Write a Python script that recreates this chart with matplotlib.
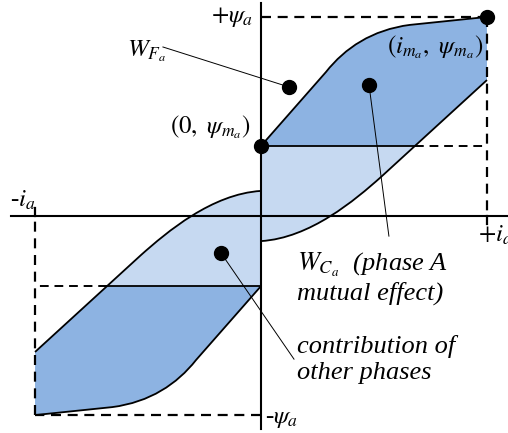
import numpy as np
import matplotlib
matplotlib.use("Agg")
import matplotlib.pyplot as plt
from matplotlib.path import Path
from matplotlib.patches import PathPatch

plt.rcParams["mathtext.fontset"] = "stix"
plt.rcParams["font.family"] = ["Liberation Serif", "DejaVu Serif"]

# flux-linkage loop of phase A, normalised to i_m = 1, psi_m = 1
PSI0 = 0.352                      # flux at zero current (0, psi_m)
I_KNEE = 0.681                    # where the lower branch crosses psi = PSI0

# upper branch: line, cubic bend, line to (i_m, psi_m)
UPPER_X = [0.0, 0.288, 0.372, 0.491, 0.659, 1.0]
UPPER_Y = [PSI0, 0.724, 0.844, 0.935, 0.960, 1.0]
UPPER_CODES = [Path.MOVETO, Path.LINETO, Path.CURVE4, Path.CURVE4, Path.CURVE4, Path.LINETO]

# lower branch: from the right edge down to the psi axis
LOWER_X = [1.0, 0.531, 0.416, 0.217, 0.0]
LOWER_Y = [0.683, 0.196, 0.080, -0.111, -0.126]
LOWER_CODES = [Path.MOVETO, Path.LINETO, Path.CURVE4, Path.CURVE4, Path.CURVE4]

# marker dots
DOT_X = [1.0, 0.0, 0.124, 0.478, -0.177]
DOT_Y = [1.0, PSI0, 0.648, 0.658, -0.186]

DARK = "#8db3e2"
LIGHT = "#c6d9f1"


def branch_path(xs, ys, codes, sign=1):
    verts = np.column_stack([xs, ys]) * sign
    return Path(verts, codes)


def region_paths(sign):
    ux, uy = UPPER_X, UPPER_Y
    lx, ly = LOWER_X, LOWER_Y
    # dark: upper branch, right edge, lower branch to the knee, back along psi0
    dark_v = list(zip(ux, uy)) + [(lx[0], ly[0]), (I_KNEE, PSI0), (0.0, PSI0)]
    dark_c = list(UPPER_CODES) + [Path.LINETO, Path.LINETO, Path.CLOSEPOLY]
    # light: below psi0, between the axis and the lower branch
    light_v = [(0.0, PSI0), (I_KNEE, PSI0)] + list(zip(lx[1:], ly[1:])) + [(0.0, PSI0)]
    light_c = [Path.MOVETO, Path.LINETO, Path.LINETO] + list(LOWER_CODES[2:]) + [Path.CLOSEPOLY]
    dark = Path(np.array(dark_v) * sign, dark_c)
    light = Path(np.array(light_v) * sign, light_c)
    return dark, light


fig = plt.figure(figsize=(5.08, 4.33), dpi=100)
ax = fig.add_axes([0, 0, 1, 1])
ax.set_xlim(-1.155, 1.093)
ax.set_ylim(-1.090, 1.085)
ax.axis("off")

dash = (0, (4.5, 3))
for s in (1, -1):
    dark, light = region_paths(s)
    ax.add_patch(PathPatch(dark, facecolor=DARK, edgecolor="none", zorder=1))
    ax.add_patch(PathPatch(light, facecolor=LIGHT, edgecolor="none", zorder=1))
    ax.add_patch(PathPatch(branch_path(UPPER_X, UPPER_Y, UPPER_CODES, s),
                           facecolor="none", edgecolor="black", lw=1.3, zorder=3))
    ax.add_patch(PathPatch(branch_path(LOWER_X, LOWER_Y, LOWER_CODES, s),
                           facecolor="none", edgecolor="black", lw=1.3, zorder=3))
    # psi0 level: solid inside the loop, dashed beyond it
    ax.plot([0, s * I_KNEE], [s * PSI0, s * PSI0], color="black", lw=1.3, zorder=3)
    ax.plot([s * I_KNEE, s * 1.0], [s * PSI0, s * PSI0], color="black", lw=1.4,
            linestyle=dash, zorder=3)
    # corner guides at (+-i_m, +-psi_m)
    ax.plot([0, s * 1.0], [s * 1.0, s * 1.0], color="black", lw=1.6, linestyle=dash, zorder=3)
    ax.plot([s * 1.0, s * 1.0], [s * 1.0, 0], color="black", lw=1.6, linestyle=dash, zorder=3)
    ax.plot([s * 1.0, s * 1.0], [0, -s * 0.04], color="black", lw=1.6, zorder=3)

# axes
ax.plot([-1.106, 1.093], [0, 0], color="black", lw=1.5, zorder=4)
ax.plot([0, 0], [-1.07, 1.07], color="black", lw=1.5, zorder=4)

# leader lines
ax.plot([-0.434, DOT_X[2]], [0.849, DOT_Y[2]], color="black", lw=0.7, zorder=4)
ax.plot([DOT_X[3], 0.566], [DOT_Y[3], -0.101], color="black", lw=0.7, zorder=4)
ax.plot([DOT_X[4], 0.146], [DOT_Y[4], -0.719], color="black", lw=0.7, zorder=4)

ax.plot(DOT_X, DOT_Y, "o", color="black", markersize=10, zorder=5)

fs = 18
fs_note = 19
ax.text(-0.035, 1.0, r"$+\psi_a$", fontsize=fs, ha="right", va="center")
ax.text(-0.42, 0.83, r"$W_{F_a}$", fontsize=fs, ha="right", va="center")
ax.text(-0.045, 0.447, r"$(0,\ \psi_{m_a})$", fontsize=fs, ha="right", va="center")
ax.text(-1.111, 0.08, r"-$i_a$", fontsize=fs, ha="left", va="center")
ax.text(0.985, 0.849, r"$(i_{m_a},\ \psi_{m_a})$", fontsize=fs, ha="right", va="center")
ax.text(0.96, -0.095, r"$+i_a$", fontsize=fs, ha="left", va="center")
ax.text(0.159, -0.246, r"$W_{C_a}$  (phase A", fontsize=fs_note, style="italic",
        ha="left", va="center")
ax.text(0.159, -0.387, "mutual effect)", fontsize=fs_note, style="italic",
        ha="left", va="center")
ax.text(0.159, -0.658, "contribution of", fontsize=fs_note, style="italic",
        ha="left", va="center")
ax.text(0.159, -0.789, "other phases", fontsize=fs_note, style="italic",
        ha="left", va="center")
ax.text(0.018, -1.02, r"-$\psi_a$", fontsize=fs, ha="left", va="center")

fig.savefig("out.png", dpi=100)
